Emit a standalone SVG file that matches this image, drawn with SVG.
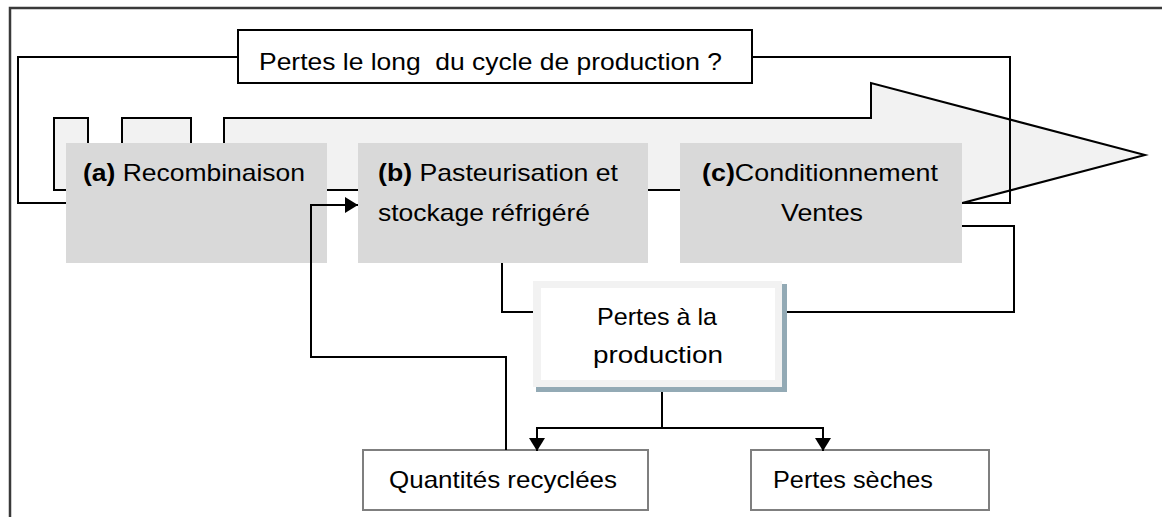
<svg xmlns="http://www.w3.org/2000/svg" width="1162" height="517" viewBox="0 0 1162 517">
  <style>
    text { font-family: "Liberation Sans", Arial, sans-serif; font-size: 24px; fill: #000; }
    .b { font-weight: bold; }
    .line { fill: none; stroke: #000; stroke-width: 2; }
    .step { fill: #d9d9d9; }
    .flow { fill: #f2f2f2; stroke: #000; stroke-width: 2; }
    .outcome { fill: #fff; stroke: #7f7f7f; stroke-width: 2; }
  </style>
  <defs>
    <marker id="arrow" markerUnits="userSpaceOnUse" markerWidth="16" markerHeight="18" refX="13" refY="8" orient="auto">
      <path d="M0,0 L13,8 L0,16 Z" fill="#000"/>
    </marker>
  </defs>

  <rect width="1162" height="517" fill="#fff"/>

  <!-- frame -->
  <rect x="10" y="8" width="1200" height="600" fill="none" stroke="#3a3a3a" stroke-width="2.5"/>

  <!-- process flow arrow -->
  <g id="flow-arrow">
    <rect class="flow" x="54" y="118" width="34" height="72"/>
    <rect class="flow" x="122" y="118" width="69" height="72"/>
    <polygon class="flow" points="224,118 871,118 871,83 1145,155 871,227 871,190 224,190"/>
  </g>

  <!-- loop around the cycle -->
  <g id="cycle-connectors">
    <polyline class="line" points="238,57 18,57 18,203 66,203"/>
    <polyline class="line" points="752,57 1010,57 1010,203 962,203"/>
  </g>

  <g id="title">
    <rect x="238" y="30" width="514" height="53" fill="#fff" stroke="#000" stroke-width="2"/>
    <text x="259" y="70" textLength="463" lengthAdjust="spacingAndGlyphs" xml:space="preserve">Pertes le long  du cycle de production ?</text>
  </g>

  <g id="step-a">
    <rect class="step" x="66" y="143" width="261" height="120"/>
    <text x="83" y="181" textLength="222" lengthAdjust="spacingAndGlyphs"><tspan class="b">(a)</tspan> Recombinaison</text>
  </g>

  <g id="step-b">
    <rect class="step" x="358" y="143" width="290" height="120"/>
    <text x="378" y="181" textLength="240" lengthAdjust="spacingAndGlyphs"><tspan class="b">(b)</tspan> Pasteurisation et</text>
    <text x="378" y="221" textLength="212" lengthAdjust="spacingAndGlyphs">stockage réfrigéré</text>
  </g>

  <g id="step-c">
    <rect class="step" x="680" y="143" width="282" height="120"/>
    <text x="702" y="181" textLength="236" lengthAdjust="spacingAndGlyphs"><tspan class="b">(c)</tspan>Conditionnement</text>
    <text x="781" y="221" textLength="82" lengthAdjust="spacingAndGlyphs">Ventes</text>
  </g>

  <g id="losses">
    <rect x="536" y="284" width="251" height="108" fill="#93aab5"/>
    <rect x="533" y="281" width="249" height="106" fill="#f2f2f2"/>
    <rect x="541" y="288" width="234" height="92" fill="#fff"/>
    <text x="597" y="325" textLength="120" lengthAdjust="spacingAndGlyphs">Pertes à la</text>
    <text x="593" y="363" textLength="130" lengthAdjust="spacingAndGlyphs">production</text>
  </g>

  <g id="recycled">
    <rect class="outcome" x="363" y="450" width="285" height="60"/>
    <text x="389" y="488" textLength="228" lengthAdjust="spacingAndGlyphs">Quantités recyclées</text>
  </g>

  <g id="dry-losses">
    <rect class="outcome" x="751" y="450" width="238" height="60"/>
    <text x="773" y="488" textLength="160" lengthAdjust="spacingAndGlyphs">Pertes sèches</text>
  </g>

  <g id="connectors">
    <polyline class="line" points="502,263 502,312 533,312"/>
    <polyline class="line" points="962,226 1014,226 1014,312 787,312"/>
    <polyline class="line" points="662,392 662,428"/>
    <polyline class="line" points="662,428 537,428 537,451" marker-end="url(#arrow)"/>
    <polyline class="line" points="662,428 823,428 823,451" marker-end="url(#arrow)"/>
    <polyline class="line" points="506,450 506,357 311,357 311,205 358,205" marker-end="url(#arrow)"/>
  </g>
</svg>
